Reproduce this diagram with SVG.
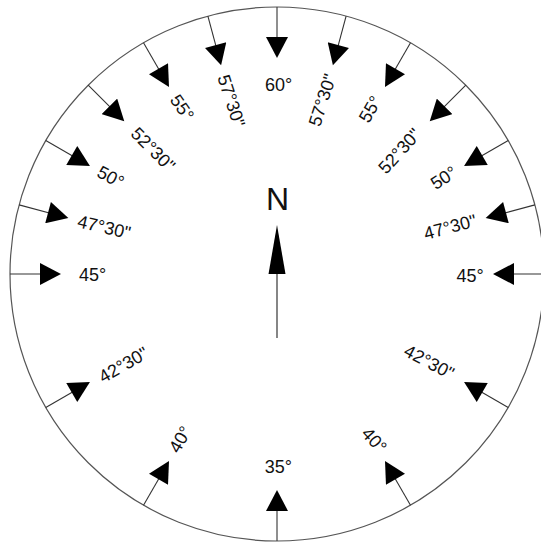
<svg xmlns="http://www.w3.org/2000/svg" width="541" height="542" viewBox="0 0 541 542">
<style>
.lbl{font-family:"Liberation Sans",Arial,sans-serif;font-size:18px;fill:#111;text-anchor:middle}
.tick{stroke:#333;stroke-width:1.1;fill:none;marker-end:url(#ah)}
</style>
<defs>
<marker id="ah" markerUnits="userSpaceOnUse" markerWidth="22" markerHeight="22" viewBox="0 0 21 22" refX="11" refY="11" orient="auto">
<path d="M0,0 L21,11 L0,22 Z" fill="#000"/>
</marker>
</defs>
<rect width="541" height="542" fill="#fff"/>
<circle id="rim" cx="277" cy="274" r="267" fill="none" stroke="#555" stroke-width="1.2"/>
<g id="connectors">
<line class="tick" x1="277" y1="7" x2="277" y2="48"/>
<line class="tick" x1="346.1" y1="16.1" x2="335.49" y2="55.7"/>
<line class="tick" x1="410.5" y1="42.77" x2="390" y2="78.28"/>
<line class="tick" x1="465.8" y1="85.2" x2="436.81" y2="114.19"/>
<line class="tick" x1="508.23" y1="140.5" x2="472.72" y2="161"/>
<line class="tick" x1="534.9" y1="204.9" x2="495.3" y2="215.51"/>
<line class="tick" x1="544" y1="274" x2="503" y2="274"/>
<line class="tick" x1="508.23" y1="407.5" x2="472.72" y2="387"/>
<line class="tick" x1="410.5" y1="505.23" x2="390" y2="469.72"/>
<line class="tick" x1="277" y1="541" x2="277" y2="500"/>
<line class="tick" x1="207.9" y1="16.1" x2="218.51" y2="55.7"/>
<line class="tick" x1="143.5" y1="42.77" x2="164" y2="78.28"/>
<line class="tick" x1="88.2" y1="85.2" x2="117.19" y2="114.19"/>
<line class="tick" x1="45.77" y1="140.5" x2="81.28" y2="161"/>
<line class="tick" x1="19.1" y1="204.9" x2="58.7" y2="215.51"/>
<line class="tick" x1="10" y1="274" x2="51" y2="274"/>
<line class="tick" x1="45.77" y1="407.5" x2="81.28" y2="387"/>
<line class="tick" x1="143.5" y1="505.23" x2="164" y2="469.72"/>
</g>
<g id="north">
<line x1="277" y1="338" x2="277" y2="272" stroke="#222" stroke-width="1.1"/>
<polygon points="277,225 285.5,274 268.5,274" fill="#000"/>
<text x="277.5" y="210" style="font-family:'Liberation Sans',Arial,sans-serif;font-size:32px;text-anchor:middle;fill:#111">N</text>
</g>
<g id="l60"><text class="lbl" transform="translate(278.7 84.8)" y="6.5">60°</text></g>
<g id="r5730"><text class="lbl" transform="translate(322 100) rotate(-72)" y="6.5">57°30"</text></g>
<g id="r55"><text class="lbl" transform="translate(370 109) rotate(-60)" y="6.5">55°</text></g>
<g id="r5230"><text class="lbl" transform="translate(399.3 150.8) rotate(-48)" y="6.5">52°30"</text></g>
<g id="r50"><text class="lbl" transform="translate(443.5 177.5) rotate(-33)" y="6.5">50°</text></g>
<g id="r4730"><text class="lbl" transform="translate(450 226.7) rotate(-15)" y="6.5">47°30"</text></g>
<g id="r45"><text class="lbl" transform="translate(470 275)" y="6.5">45°</text></g>
<g id="r4230"><text class="lbl" transform="translate(429.3 361.7) rotate(28)" y="6.5">42°30"</text></g>
<g id="r40"><text class="lbl" transform="translate(374.5 440) rotate(48)" y="6.5">40°</text></g>
<g id="l35"><text class="lbl" transform="translate(278.3 466)" y="6.5">35°</text></g>
<g id="w5730"><text class="lbl" transform="translate(231.7 100.8) rotate(72)" y="6.5">57°30"</text></g>
<g id="w55"><text class="lbl" transform="translate(182.5 107.5) rotate(55)" y="6.5">55°</text></g>
<g id="w5230"><text class="lbl" transform="translate(153.3 149.2) rotate(45)" y="6.5">52°30"</text></g>
<g id="w50"><text class="lbl" transform="translate(110.8 176.7) rotate(28)" y="6.5">50°</text></g>
<g id="w4730"><text class="lbl" transform="translate(104.2 226.7) rotate(13)" y="6.5">47°30"</text></g>
<g id="w45"><text class="lbl" transform="translate(92.5 274.7)" y="6.5">45°</text></g>
<g id="w4230"><text class="lbl" transform="translate(123.3 364.5) rotate(-30)" y="6.5">42°30"</text></g>
<g id="w40"><text class="lbl" transform="translate(180 439.2) rotate(-60)" y="6.5">40°</text></g>
</svg>
